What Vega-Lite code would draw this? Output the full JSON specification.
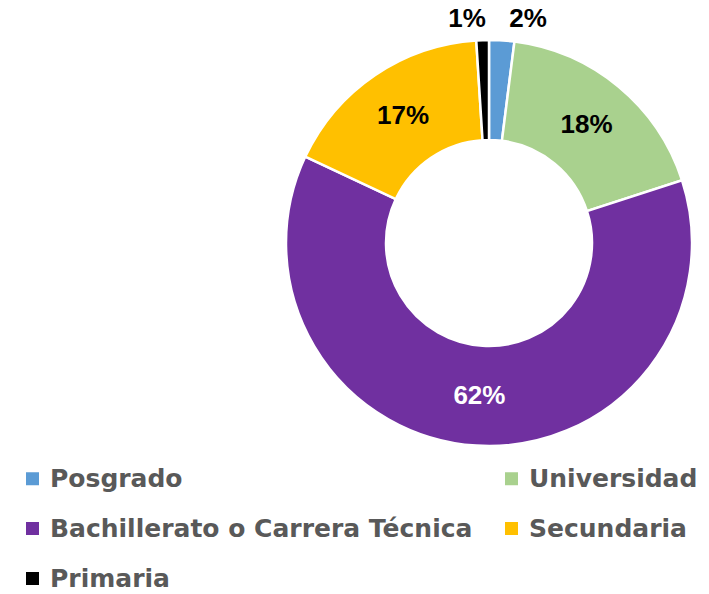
{
  "$schema": "https://vega.github.io/schema/vega-lite/v6.json",
  "width": 406,
  "height": 406,
  "autosize": {"type": "none"},
  "padding": {"left": 286, "top": 40, "right": 17, "bottom": 148},
  "background": "white",
  "view": {"stroke": null},
  "data": {
    "values": [
      {"nivel": "Posgrado", "porcentaje": 2, "etiqueta": "2%", "orden": 1},
      {"nivel": "Universidad", "porcentaje": 18, "etiqueta": "18%", "orden": 2},
      {"nivel": "Bachillerato o Carrera Técnica", "porcentaje": 62, "etiqueta": "62%", "orden": 3},
      {"nivel": "Secundaria", "porcentaje": 17, "etiqueta": "17%", "orden": 4},
      {"nivel": "Primaria", "porcentaje": 1, "etiqueta": "1%", "orden": 5}
    ]
  },
  "encoding": {
    "theta": {"field": "porcentaje", "type": "quantitative", "stack": true},
    "order": {"field": "orden", "type": "quantitative", "sort": "ascending"}
  },
  "layer": [
    {
      "mark": {"type": "arc", "innerRadius": 103, "outerRadius": 203, "stroke": "white", "strokeWidth": 2.5},
      "encoding": {
        "color": {
          "field": "nivel",
          "type": "nominal",
          "scale": {
            "domain": ["Posgrado", "Bachillerato o Carrera Técnica", "Primaria", "Universidad", "Secundaria"],
            "range": ["#5B9BD5", "#7030A0", "#000000", "#A9D18E", "#FFC000"]
          },
          "legend": {
            "title": null,
            "orient": "none",
            "legendX": -266,
            "legendY": 426,
            "columns": 2,
            "symbolType": "square",
            "symbolSize": 169,
            "symbolStrokeWidth": 0,
            "labelFont": "DejaVu Sans",
            "labelFontWeight": "bold",
            "labelFontSize": 25,
            "labelColor": "#595959",
            "labelOffset": 5,
            "labelLimit": 600,
            "rowPadding": 24,
            "columnPadding": 26,
            "padding": 0
          }
        }
      }
    },
    {
      "mark": {"type": "text", "radius": 153, "font": "Liberation Sans", "fontWeight": "bold", "fontSize": 26},
      "encoding": {
        "text": {"condition": {"test": "datum.porcentaje >= 5", "field": "etiqueta", "type": "nominal"}, "value": ""},
        "color": {"condition": {"test": "datum.nivel === 'Bachillerato o Carrera Técnica'", "value": "white"}, "value": "black"}
      }
    },
    {
      "mark": {"type": "text", "radius": 224, "dx": 25, "font": "Liberation Sans", "fontWeight": "bold", "fontSize": 26, "color": "black"},
      "encoding": {
        "text": {"condition": {"test": "datum.nivel === 'Posgrado'", "field": "etiqueta", "type": "nominal"}, "value": ""}
      }
    },
    {
      "mark": {"type": "text", "radius": 224, "dx": -15, "font": "Liberation Sans", "fontWeight": "bold", "fontSize": 26, "color": "black"},
      "encoding": {
        "text": {"condition": {"test": "datum.nivel === 'Primaria'", "field": "etiqueta", "type": "nominal"}, "value": ""}
      }
    }
  ]
}
